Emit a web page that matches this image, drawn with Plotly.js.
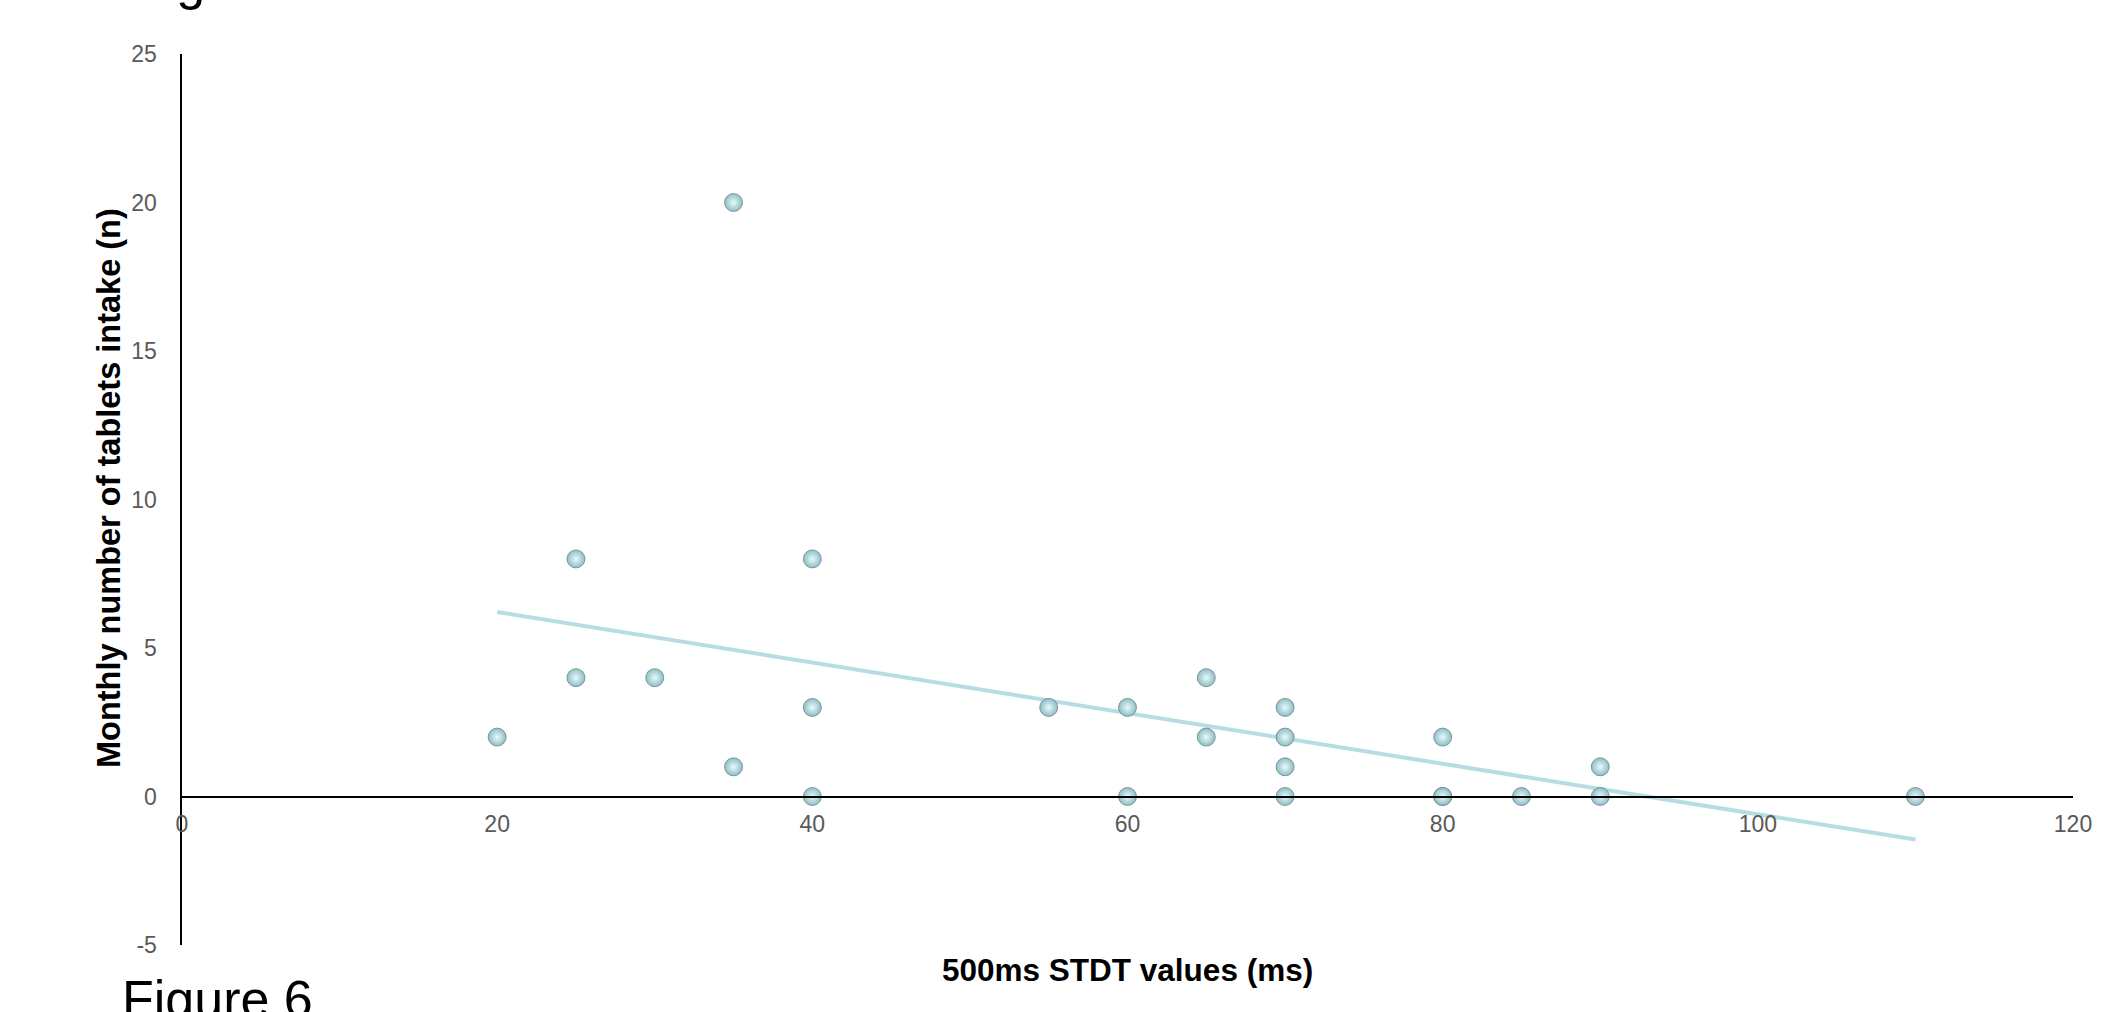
<!DOCTYPE html>
<html>
<head>
<meta charset="utf-8">
<script src="https://cdn.plot.ly/plotly-3.0.1.min.js"></script>
<style>html,body{margin:0;padding:0;background:#fff;}#chart{width:2119px;height:1012px;}</style>
</head>
<body>
<div id="chart"></div>
<script>
// Data
const stdtValues = [20, 25, 25, 30, 35, 35, 40, 40, 40, 55, 60, 60, 65, 65, 70, 70, 70, 70, 80, 80, 80, 85, 90, 90, 110];
const tabletsIntake = [2, 8, 4, 4, 20, 1, 8, 3, 0, 3, 3, 0, 4, 2, 3, 2, 1, 0, 2, 0, 0, 0, 1, 0, 0];
const xTickVals = [0, 20, 40, 60, 80, 100, 120];
const yTickVals = [-5, 0, 5, 10, 15, 20, 25];
const xTitle = '500ms STDT values (ms)';
const yTitle = 'Monthly number of tablets intake (n)';
const captionText = 'Figure 6';
const prevCaptionText = 'Figure 5';

// Linear least-squares trendline from the data
const n = stdtValues.length;
const mx = stdtValues.reduce((a, b) => a + b, 0) / n;
const my = tabletsIntake.reduce((a, b) => a + b, 0) / n;
let sxy = 0, sxx = 0;
for (let i = 0; i < n; i++) {
  sxy += (stdtValues[i] - mx) * (tabletsIntake[i] - my);
  sxx += (stdtValues[i] - mx) * (stdtValues[i] - mx);
}
const slope = sxy / sxx;
const intercept = my - slope * mx;
const xMin = Math.min(...stdtValues), xMax = Math.max(...stdtValues);
const trendX = [xMin, xMax];
const trendY = trendX.map(x => intercept + slope * x);

const font = 'Liberation Sans, Arial, sans-serif';

const traces = [
  {
    type: 'scatter', mode: 'lines', x: trendX, y: trendY,
    line: {color: 'rgb(182,222,226)', width: 4},
    hoverinfo: 'skip', showlegend: false
  },
  {
    type: 'scatter', mode: 'markers', x: stdtValues, y: tabletsIntake,
    marker: {
      size: 18, color: 'rgb(140,190,197)',
      gradient: {type: 'radial', color: 'rgb(232,250,252)'},
      line: {color: 'rgba(100,120,125,0.7)', width: 1}
    },
    showlegend: false
  }
];

const layout = {
  width: 2119, height: 1012,
  paper_bgcolor: '#ffffff', plot_bgcolor: '#ffffff',
  margin: {l: 182, r: 46, t: 54, b: 67},
  showlegend: false,
  font: {family: font, color: '#595959'},
  xaxis: {
    range: [0, 120], tickvals: xTickVals, ticktext: xTickVals.map(String),
    showgrid: false, zeroline: false,
    showline: true, linecolor: '#000000', linewidth: 2.5,
    anchor: 'free', position: 5 / 30,
    ticks: '', ticklabelstandoff: 6,
    tickfont: {family: font, size: 23, color: '#595959'}
  },
  yaxis: {
    range: [-5, 25], tickvals: yTickVals, ticktext: yTickVals.map(String),
    showgrid: false, zeroline: false,
    showline: true, linecolor: '#000000', linewidth: 2.5,
    ticks: '', ticklabelstandoff: 18,
    tickfont: {family: font, size: 23, color: '#595959'}
  },
  annotations: [
    {
      text: '<b>' + xTitle + '</b>', xref: 'paper', yref: 'paper',
      x: 0.5, y: (945 - 970) / 891,
      xanchor: 'center', yanchor: 'middle', showarrow: false,
      font: {family: font, size: 31.5, color: '#000000'}
    },
    {
      text: '<b>' + yTitle + '</b>', xref: 'paper', yref: 'paper',
      x: (109 - 182) / 1891, y: (945 - 488) / 891, textangle: -90,
      xanchor: 'center', yanchor: 'middle', showarrow: false,
      font: {family: font, size: 32.5, color: '#000000'}
    },
    {
      text: captionText, xref: 'paper', yref: 'paper',
      x: (120 - 182) / 1891, y: (945 - 968) / 891,
      xanchor: 'left', yanchor: 'top', showarrow: false,
      font: {family: font, size: 52, color: '#000000'}
    },
    {
      text: prevCaptionText, xref: 'paper', yref: 'paper',
      x: (131 - 182) / 1891, y: (945 - 12) / 891,
      xanchor: 'left', yanchor: 'bottom', showarrow: false,
      font: {family: font, size: 52, color: '#000000'}
    }
  ]
};

Plotly.newPlot('chart', traces, layout, {displayModeBar: false, staticPlot: true});
</script>
</body>
</html>
